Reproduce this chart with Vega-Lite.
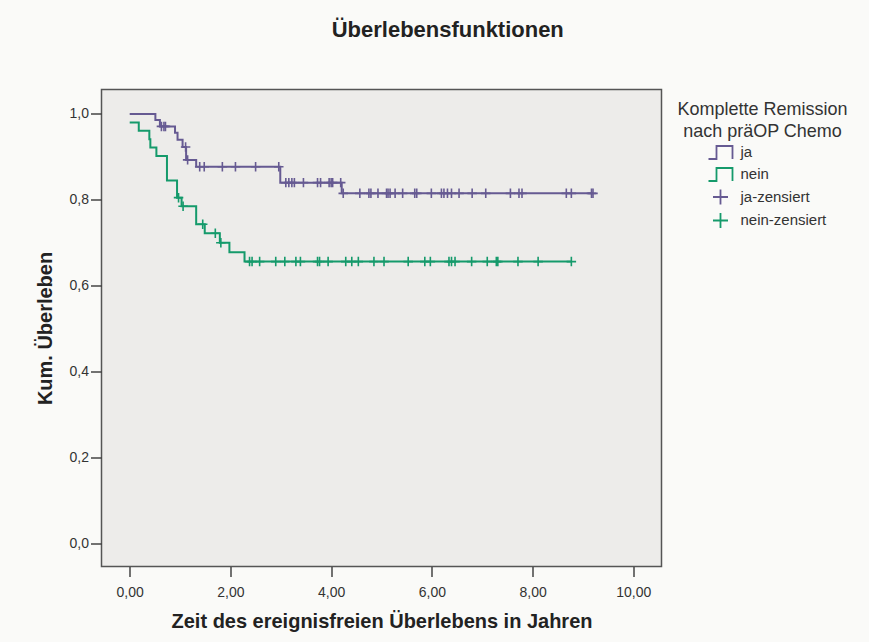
{
  "$schema": "https://vega.github.io/schema/vega-lite/v6.json",
  "width": 560,
  "height": 477,
  "autosize": {"type": "none"},
  "padding": {"left": 101.5, "top": 89.5, "right": 207.3, "bottom": 75.3},
  "background": "#fafaf8",
  "title": {
    "text": "Überlebensfunktionen",
    "anchor": "middle",
    "frame": "bounds",
    "font": "Liberation Sans",
    "fontSize": 22,
    "fontWeight": "bold",
    "color": "#222222",
    "offset": 47
  },
  "config": {
    "font": "Liberation Sans",
    "view": {"fill": "#edecea", "stroke": "#555555", "strokeWidth": 1.5}
  },
  "data": {
    "values": [
      {"t": 0.00, "s": 1.000, "eintrag": "ja", "art": "stufe"},
      {"t": 0.51, "s": 0.986, "eintrag": "ja", "art": "stufe"},
      {"t": 0.60, "s": 0.971, "eintrag": "ja", "art": "stufe"},
      {"t": 0.90, "s": 0.956, "eintrag": "ja", "art": "stufe"},
      {"t": 0.95, "s": 0.940, "eintrag": "ja", "art": "stufe"},
      {"t": 1.05, "s": 0.923, "eintrag": "ja", "art": "stufe"},
      {"t": 1.12, "s": 0.893, "eintrag": "ja", "art": "stufe"},
      {"t": 1.32, "s": 0.877, "eintrag": "ja", "art": "stufe"},
      {"t": 2.99, "s": 0.840, "eintrag": "ja", "art": "stufe"},
      {"t": 4.21, "s": 0.815, "eintrag": "ja", "art": "stufe"},
      {"t": 9.20, "s": 0.815, "eintrag": "ja", "art": "stufe"},

      {"t": 0.63, "s": 0.971, "eintrag": "ja-zensiert", "art": "zensiert"},
      {"t": 0.68, "s": 0.971, "eintrag": "ja-zensiert", "art": "zensiert"},
      {"t": 0.71, "s": 0.971, "eintrag": "ja-zensiert", "art": "zensiert"},
      {"t": 1.11, "s": 0.923, "eintrag": "ja-zensiert", "art": "zensiert"},
      {"t": 1.15, "s": 0.893, "eintrag": "ja-zensiert", "art": "zensiert"},
      {"t": 1.39, "s": 0.877, "eintrag": "ja-zensiert", "art": "zensiert"},
      {"t": 1.48, "s": 0.877, "eintrag": "ja-zensiert", "art": "zensiert"},
      {"t": 1.84, "s": 0.877, "eintrag": "ja-zensiert", "art": "zensiert"},
      {"t": 2.10, "s": 0.877, "eintrag": "ja-zensiert", "art": "zensiert"},
      {"t": 2.50, "s": 0.877, "eintrag": "ja-zensiert", "art": "zensiert"},
      {"t": 2.96, "s": 0.877, "eintrag": "ja-zensiert", "art": "zensiert"},
      {"t": 3.10, "s": 0.840, "eintrag": "ja-zensiert", "art": "zensiert"},
      {"t": 3.16, "s": 0.840, "eintrag": "ja-zensiert", "art": "zensiert"},
      {"t": 3.22, "s": 0.840, "eintrag": "ja-zensiert", "art": "zensiert"},
      {"t": 3.27, "s": 0.840, "eintrag": "ja-zensiert", "art": "zensiert"},
      {"t": 3.45, "s": 0.840, "eintrag": "ja-zensiert", "art": "zensiert"},
      {"t": 3.73, "s": 0.840, "eintrag": "ja-zensiert", "art": "zensiert"},
      {"t": 3.79, "s": 0.840, "eintrag": "ja-zensiert", "art": "zensiert"},
      {"t": 3.96, "s": 0.840, "eintrag": "ja-zensiert", "art": "zensiert"},
      {"t": 4.00, "s": 0.840, "eintrag": "ja-zensiert", "art": "zensiert"},
      {"t": 4.03, "s": 0.840, "eintrag": "ja-zensiert", "art": "zensiert"},
      {"t": 4.19, "s": 0.840, "eintrag": "ja-zensiert", "art": "zensiert"},
      {"t": 4.24, "s": 0.815, "eintrag": "ja-zensiert", "art": "zensiert"},
      {"t": 4.57, "s": 0.815, "eintrag": "ja-zensiert", "art": "zensiert"},
      {"t": 4.75, "s": 0.815, "eintrag": "ja-zensiert", "art": "zensiert"},
      {"t": 4.79, "s": 0.815, "eintrag": "ja-zensiert", "art": "zensiert"},
      {"t": 4.93, "s": 0.815, "eintrag": "ja-zensiert", "art": "zensiert"},
      {"t": 5.10, "s": 0.815, "eintrag": "ja-zensiert", "art": "zensiert"},
      {"t": 5.13, "s": 0.815, "eintrag": "ja-zensiert", "art": "zensiert"},
      {"t": 5.17, "s": 0.815, "eintrag": "ja-zensiert", "art": "zensiert"},
      {"t": 5.27, "s": 0.815, "eintrag": "ja-zensiert", "art": "zensiert"},
      {"t": 5.42, "s": 0.815, "eintrag": "ja-zensiert", "art": "zensiert"},
      {"t": 5.66, "s": 0.815, "eintrag": "ja-zensiert", "art": "zensiert"},
      {"t": 5.70, "s": 0.815, "eintrag": "ja-zensiert", "art": "zensiert"},
      {"t": 5.99, "s": 0.815, "eintrag": "ja-zensiert", "art": "zensiert"},
      {"t": 6.19, "s": 0.815, "eintrag": "ja-zensiert", "art": "zensiert"},
      {"t": 6.24, "s": 0.815, "eintrag": "ja-zensiert", "art": "zensiert"},
      {"t": 6.31, "s": 0.815, "eintrag": "ja-zensiert", "art": "zensiert"},
      {"t": 6.39, "s": 0.815, "eintrag": "ja-zensiert", "art": "zensiert"},
      {"t": 6.54, "s": 0.815, "eintrag": "ja-zensiert", "art": "zensiert"},
      {"t": 6.80, "s": 0.815, "eintrag": "ja-zensiert", "art": "zensiert"},
      {"t": 7.07, "s": 0.815, "eintrag": "ja-zensiert", "art": "zensiert"},
      {"t": 7.56, "s": 0.815, "eintrag": "ja-zensiert", "art": "zensiert"},
      {"t": 7.73, "s": 0.815, "eintrag": "ja-zensiert", "art": "zensiert"},
      {"t": 7.79, "s": 0.815, "eintrag": "ja-zensiert", "art": "zensiert"},
      {"t": 8.67, "s": 0.815, "eintrag": "ja-zensiert", "art": "zensiert"},
      {"t": 8.77, "s": 0.815, "eintrag": "ja-zensiert", "art": "zensiert"},
      {"t": 9.17, "s": 0.815, "eintrag": "ja-zensiert", "art": "zensiert"},
      {"t": 9.20, "s": 0.815, "eintrag": "ja-zensiert", "art": "zensiert"},

      {"t": 0.00, "s": 0.980, "eintrag": "nein", "art": "stufe"},
      {"t": 0.18, "s": 0.961, "eintrag": "nein", "art": "stufe"},
      {"t": 0.39, "s": 0.941, "eintrag": "nein", "art": "stufe"},
      {"t": 0.41, "s": 0.922, "eintrag": "nein", "art": "stufe"},
      {"t": 0.53, "s": 0.902, "eintrag": "nein", "art": "stufe"},
      {"t": 0.74, "s": 0.845, "eintrag": "nein", "art": "stufe"},
      {"t": 0.94, "s": 0.805, "eintrag": "nein", "art": "stufe"},
      {"t": 1.03, "s": 0.785, "eintrag": "nein", "art": "stufe"},
      {"t": 1.32, "s": 0.743, "eintrag": "nein", "art": "stufe"},
      {"t": 1.49, "s": 0.722, "eintrag": "nein", "art": "stufe"},
      {"t": 1.79, "s": 0.700, "eintrag": "nein", "art": "stufe"},
      {"t": 1.98, "s": 0.678, "eintrag": "nein", "art": "stufe"},
      {"t": 2.28, "s": 0.656, "eintrag": "nein", "art": "stufe"},
      {"t": 8.77, "s": 0.656, "eintrag": "nein", "art": "stufe"},

      {"t": 0.97, "s": 0.805, "eintrag": "nein-zensiert", "art": "zensiert"},
      {"t": 1.06, "s": 0.785, "eintrag": "nein-zensiert", "art": "zensiert"},
      {"t": 1.45, "s": 0.743, "eintrag": "nein-zensiert", "art": "zensiert"},
      {"t": 1.70, "s": 0.722, "eintrag": "nein-zensiert", "art": "zensiert"},
      {"t": 1.81, "s": 0.700, "eintrag": "nein-zensiert", "art": "zensiert"},
      {"t": 2.38, "s": 0.656, "eintrag": "nein-zensiert", "art": "zensiert"},
      {"t": 2.43, "s": 0.656, "eintrag": "nein-zensiert", "art": "zensiert"},
      {"t": 2.58, "s": 0.656, "eintrag": "nein-zensiert", "art": "zensiert"},
      {"t": 2.90, "s": 0.656, "eintrag": "nein-zensiert", "art": "zensiert"},
      {"t": 3.08, "s": 0.656, "eintrag": "nein-zensiert", "art": "zensiert"},
      {"t": 3.30, "s": 0.656, "eintrag": "nein-zensiert", "art": "zensiert"},
      {"t": 3.39, "s": 0.656, "eintrag": "nein-zensiert", "art": "zensiert"},
      {"t": 3.73, "s": 0.656, "eintrag": "nein-zensiert", "art": "zensiert"},
      {"t": 3.77, "s": 0.656, "eintrag": "nein-zensiert", "art": "zensiert"},
      {"t": 3.94, "s": 0.656, "eintrag": "nein-zensiert", "art": "zensiert"},
      {"t": 4.29, "s": 0.656, "eintrag": "nein-zensiert", "art": "zensiert"},
      {"t": 4.41, "s": 0.656, "eintrag": "nein-zensiert", "art": "zensiert"},
      {"t": 4.54, "s": 0.656, "eintrag": "nein-zensiert", "art": "zensiert"},
      {"t": 4.85, "s": 0.656, "eintrag": "nein-zensiert", "art": "zensiert"},
      {"t": 5.05, "s": 0.656, "eintrag": "nein-zensiert", "art": "zensiert"},
      {"t": 5.53, "s": 0.656, "eintrag": "nein-zensiert", "art": "zensiert"},
      {"t": 5.86, "s": 0.656, "eintrag": "nein-zensiert", "art": "zensiert"},
      {"t": 5.97, "s": 0.656, "eintrag": "nein-zensiert", "art": "zensiert"},
      {"t": 6.34, "s": 0.656, "eintrag": "nein-zensiert", "art": "zensiert"},
      {"t": 6.39, "s": 0.656, "eintrag": "nein-zensiert", "art": "zensiert"},
      {"t": 6.46, "s": 0.656, "eintrag": "nein-zensiert", "art": "zensiert"},
      {"t": 6.79, "s": 0.656, "eintrag": "nein-zensiert", "art": "zensiert"},
      {"t": 7.10, "s": 0.656, "eintrag": "nein-zensiert", "art": "zensiert"},
      {"t": 7.28, "s": 0.656, "eintrag": "nein-zensiert", "art": "zensiert"},
      {"t": 7.31, "s": 0.656, "eintrag": "nein-zensiert", "art": "zensiert"},
      {"t": 7.71, "s": 0.656, "eintrag": "nein-zensiert", "art": "zensiert"},
      {"t": 8.11, "s": 0.656, "eintrag": "nein-zensiert", "art": "zensiert"},
      {"t": 8.77, "s": 0.656, "eintrag": "nein-zensiert", "art": "zensiert"}
    ]
  },
  "encoding": {
    "x": {
      "field": "t",
      "type": "quantitative",
      "scale": {"domain": [-0.56, 10.56], "nice": false, "zero": false},
      "axis": {
        "values": [0, 2, 4, 6, 8, 10],
        "labelExpr": "replace(format(datum.value, '.2f'), '.', ',')",
        "title": "Zeit des ereignisfreien Überlebens in Jahren",
        "titleFontSize": 20,
        "titleFontWeight": "bold",
        "titleColor": "#222222",
        "titlePadding": 12,
        "labelFontSize": 14,
        "labelColor": "#333333",
        "labelPadding": 9,
        "tickSize": 10,
        "tickColor": "#444444",
        "tickWidth": 1.5,
        "domain": false,
        "grid": false
      }
    },
    "y": {
      "field": "s",
      "type": "quantitative",
      "scale": {"domain": [-0.0545, 1.057], "nice": false, "zero": false},
      "axis": {
        "values": [0, 0.2, 0.4, 0.6, 0.8, 1.0],
        "labelExpr": "replace(format(datum.value, '.1f'), '.', ',')",
        "title": "Kum. Überleben",
        "titleFontSize": 20,
        "titleFontWeight": "bold",
        "titleColor": "#222222",
        "titlePadding": 14,
        "labelFontSize": 14,
        "labelColor": "#333333",
        "labelPadding": 2,
        "tickSize": 11,
        "tickColor": "#444444",
        "tickWidth": 1.5,
        "domain": false,
        "grid": false
      }
    },
    "color": {
      "field": "eintrag",
      "type": "nominal",
      "scale": {
        "domain": ["ja", "nein", "ja-zensiert", "nein-zensiert"],
        "range": ["#665a92", "#159a6b", "#665a92", "#159a6b"]
      },
      "legend": {
        "orient": "right",
        "offset": 4,
        "padding": 12,
        "title": ["Komplette Remission", "nach präOP Chemo"],
        "titleFontSize": 18,
        "titleFontWeight": "normal",
        "titleColor": "#333333",
        "titleAlign": "center",
        "titleAnchor": "middle",
        "titleLineHeight": 22,
        "titlePadding": 0,
        "labelFontSize": 15,
        "labelColor": "#333333",
        "labelOffset": 9,
        "symbolSize": 400,
        "symbolOffset": 11,
        "rowPadding": -0.5,
        "encode": {
          "symbols": {
            "update": {
              "shape": {"signal": "indexof(datum.value, 'zensiert') >= 0 ? 'M-0.75,0L0.75,0M0,-0.75L0,0.75' : 'M-1.2,0.65L-0.4,0.65L-0.4,-0.65L1.2,-0.65L1.2,0.65'"},
              "fill": {"value": "transparent"},
              "stroke": {"scale": "color", "field": "value"},
              "strokeWidth": {"value": 1.8},
              "size": {"value": 400},
              "opacity": {"value": 1}
            }
          }
        }
      }
    }
  },
  "layer": [
    {
      "transform": [{"filter": "datum.art == 'stufe'"}],
      "mark": {"type": "line", "interpolate": "step-after", "strokeWidth": 2}
    },
    {
      "transform": [{"filter": "datum.art == 'zensiert'"}],
      "mark": {
        "type": "point",
        "shape": "M-1,0L1,0M0,-1L0,1",
        "size": 90,
        "filled": false,
        "strokeWidth": 1.6,
        "opacity": 1
      }
    }
  ]
}
